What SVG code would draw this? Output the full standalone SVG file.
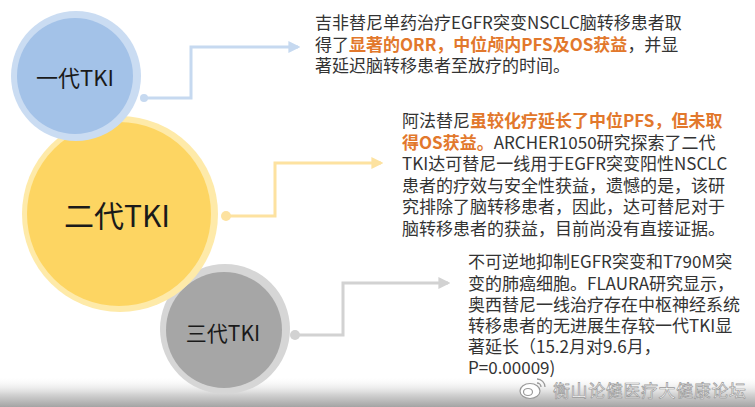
<svg xmlns="http://www.w3.org/2000/svg" width="755" height="407" viewBox="0 0 755 407">
<defs>
<style>
.t{font-family:"Noto Sans CJK SC","Liberation Sans",sans-serif;font-size:17px;fill:#333}
.o{fill:#e2782c;font-weight:bold}
.lbl{font-family:"Noto Sans CJK SC","Liberation Sans",sans-serif;fill:#1a1a1a;text-anchor:middle}
.c{fill:none;stroke-width:3;stroke-linejoin:miter}
.wm{font-family:"Noto Sans CJK SC",sans-serif;font-size:17px;fill:#ffffff;stroke:#9a9a9a;stroke-width:0.7;letter-spacing:0.6px}
</style>
<linearGradient id="band" x1="0" y1="0" x2="0" y2="1">
<stop offset="0" stop-color="#ffffff" stop-opacity="0"/>
<stop offset="0.6" stop-color="#d2d2d2"/>
<stop offset="1" stop-color="#a4a4a4"/>
</linearGradient>
<marker id="ab" viewBox="0 0 10 10" refX="8" refY="5" markerWidth="4" markerHeight="4" orient="auto"><path d="M0,0 L10,5 L0,10 Z" fill="#c6d9f0"/></marker>
<marker id="ay" viewBox="0 0 10 10" refX="8" refY="5" markerWidth="4" markerHeight="4" orient="auto"><path d="M0,0 L10,5 L0,10 Z" fill="#fde2a0"/></marker>
<marker id="ag" viewBox="0 0 10 10" refX="8" refY="5" markerWidth="4" markerHeight="4" orient="auto"><path d="M0,0 L10,5 L0,10 Z" fill="#d2d2d2"/></marker>
</defs>
<rect width="755" height="407" fill="#ffffff"/>
<rect x="0" y="376" width="755" height="31" fill="url(#band)"/>

<g id="connectors">
<circle cx="144" cy="98" r="4" fill="#c6d9f0"/>
<polyline class="c" points="144,98 191,98 191,47 298,47" stroke="#c6d9f0" marker-end="url(#ab)"/>
<circle cx="226" cy="216" r="5" fill="#fde2a0"/>
<polyline class="c" points="226,216 275,216 275,163 381,163" stroke="#fde2a0" marker-end="url(#ay)"/>
<circle cx="295" cy="335" r="5" fill="#d2d2d2"/>
<polyline class="c" points="295,335 343,335 343,283 448,283" stroke="#d2d2d2" marker-end="url(#ag)"/>
</g>

<g id="node3">
<circle cx="225" cy="329" r="65" fill="#d6d6d6"/>
<circle cx="224" cy="330" r="58" fill="#a6a6a6"/>
<text class="lbl" x="223" y="341" font-size="21">三代TKI</text>
</g>
<g id="node2">
<circle cx="120" cy="214" r="98" fill="#feeaa9"/>
<circle cx="119" cy="214" r="92" fill="#fdd562"/>
<text class="lbl" x="117" y="227" font-size="30">二代TKI</text>
</g>
<g id="node1">
<circle cx="76" cy="76" r="65" fill="#cadcf2"/>
<circle cx="75" cy="76" r="58" fill="#a3c2e8"/>
<text class="lbl" x="75" y="86" font-size="22">一代TKI</text>
</g>

<g id="text1" class="t">
<text x="315" y="29">吉非替尼单药治疗EGFR突变NSCLC脑转移患者取</text>
<text x="315" y="51">得了<tspan class="o">显著的ORR，中位颅内PFS及OS获益</tspan>，并显</text>
<text x="315" y="72">著延迟脑转移患者至放疗的时间。</text>
</g>
<g id="text2" class="t">
<text x="402" y="127">阿法替尼<tspan class="o">虽较化疗延长了中位PFS，但未取</tspan></text>
<text x="402" y="149"><tspan class="o">得OS获益。</tspan>ARCHER1050研究探索了二代</text>
<text x="402" y="170">TKI达可替尼一线用于EGFR突变阳性NSCLC</text>
<text x="402" y="192">患者的疗效与安全性获益，遗憾的是，该研</text>
<text x="402" y="213">究排除了脑转移患者，因此，达可替尼对于</text>
<text x="402" y="235">脑转移患者的获益，目前尚没有直接证据。</text>
</g>
<g id="text3" class="t">
<text x="468" y="268">不可逆地抑制EGFR突变和T790M突</text>
<text x="468" y="290">变的肺癌细胞。FLAURA研究显示，</text>
<text x="468" y="311">奥西替尼一线治疗存在中枢神经系统</text>
<text x="468" y="332">转移患者的无进展生存较一代TKI显</text>
<text x="468" y="353">著延长（15.2月对9.6月，</text>
<text x="468" y="374">P=0.00009)</text>
</g>

<g id="watermark">
<ellipse cx="530" cy="391" rx="10" ry="7.5" fill="#ffffff" stroke="#9a9a9a" stroke-width="1.2"/>
<ellipse cx="528" cy="392" rx="4.5" ry="3.5" fill="none" stroke="#9a9a9a" stroke-width="1.2"/>
<path d="M537,379 a8,8 0 0 1 8,8 M537,383 a4,4 0 0 1 4,4" fill="none" stroke="#9a9a9a" stroke-width="1.3"/>
<text class="wm" x="553" y="397">衡山论健医疗大健康论坛</text>
</g>
</svg>
